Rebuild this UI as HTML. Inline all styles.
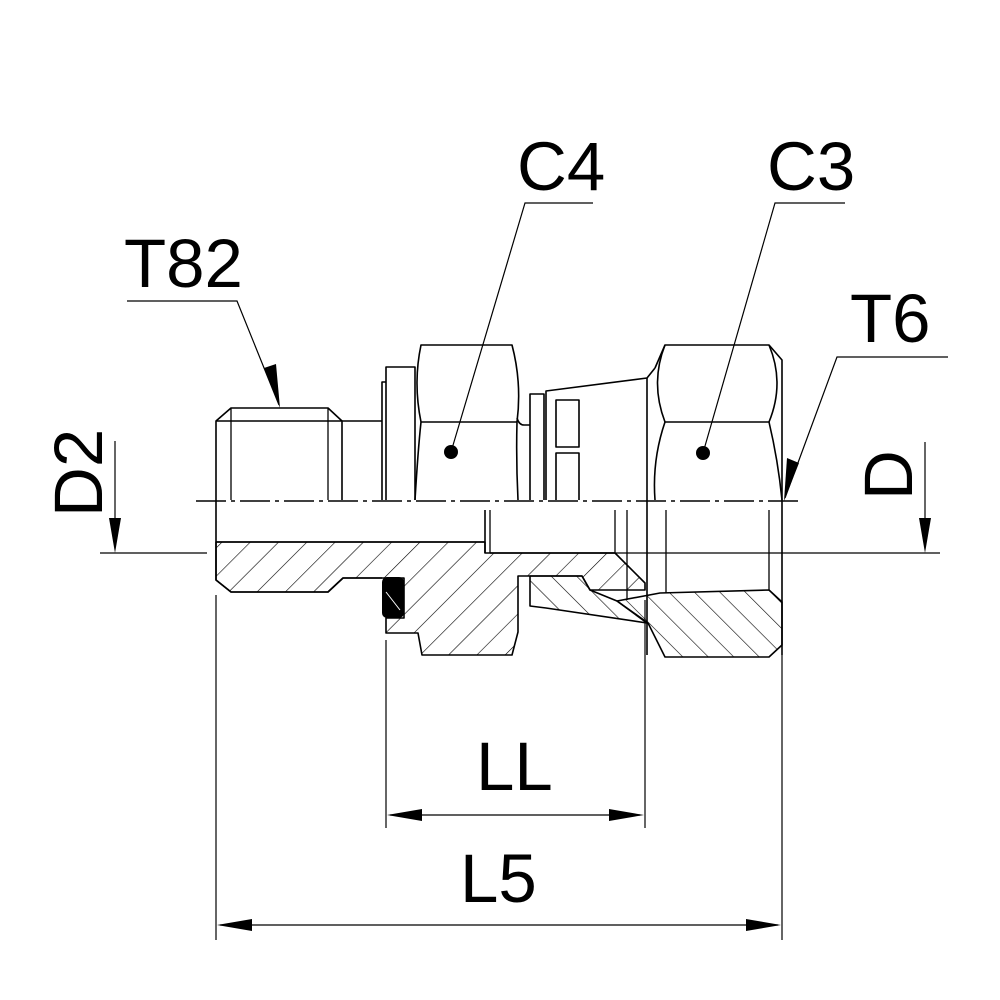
<!DOCTYPE html>
<html><head><meta charset="utf-8"><style>
html,body{margin:0;padding:0;background:#fff}
svg{display:block}
text{font-family:"Liberation Sans",Arial,sans-serif;fill:#000}
</style></head><body>
<svg width="1000" height="1000" viewBox="0 0 1000 1000" xmlns="http://www.w3.org/2000/svg">
<defs>
<pattern id="h1" patternUnits="userSpaceOnUse" width="20" height="20" patternTransform="rotate(45)">
<line x1="0" y1="0" x2="0" y2="20" stroke="#000" stroke-width="1.2"/></pattern>
<pattern id="h2" patternUnits="userSpaceOnUse" width="18" height="18" patternTransform="rotate(-45)">
<line x1="0" y1="0" x2="0" y2="18" stroke="#000" stroke-width="1.2"/></pattern>
</defs>
<g fill="none" stroke="#000" stroke-width="1.6" stroke-linejoin="round">
<path d="M216,500 L216,421 L231,408 L328,408 L342,421 L342,500"/>
<line x1="216" y1="421" x2="342" y2="421"/>
<line x1="231" y1="408" x2="231" y2="500" stroke-width="1.3"/>
<line x1="328" y1="408" x2="328" y2="500" stroke-width="1.3"/>
<path d="M342,421 L382,421"/>
<path d="M382,500 L382,382 L386,382"/>
<path d="M386,500 L386,367 L415,367 L415,500"/>
<path d="M415,500 Q418,450 421,422 Q413,383 421,345 L512,345 Q522,383 517,422 Q516,460 518,500"/>
<line x1="421" y1="422" x2="517" y2="422"/>
<path d="M517,418 Q519,425 524,425 L530,425"/>
<path d="M530,500 L530,394 L544,394 L544,500"/>
<path d="M546,500 L546,391 L647,378 L655,368"/>
<line x1="647" y1="378" x2="647" y2="655"/>
<rect x="556" y="400" width="23" height="47"/>
<path d="M556,500 L556,453 L579,453 L579,500"/>
<path d="M655,368 L665,345 L769,345 L782,360 L782,655"/>
<path d="M665,345 Q650,383 665,422 Q652,460 655,500"/>
<path d="M769,345 Q785,383 769,422 Q778,460 782,500"/>
<line x1="665" y1="422" x2="769" y2="422"/>
<path d="M216,500 L216,580 L231,592 L328,592 L343,578 L382,578"/>
<line x1="216" y1="542" x2="485" y2="542"/>
<line x1="485" y1="510" x2="485" y2="553"/>
<line x1="490" y1="510" x2="490" y2="553" stroke-width="1.3"/>
<line x1="490" y1="553" x2="615" y2="553"/>
<line x1="615" y1="510" x2="615" y2="553" stroke-width="1.3"/>
<line x1="627" y1="510" x2="627" y2="600" stroke-width="1.3"/>
<line x1="666" y1="510" x2="666" y2="593" stroke-width="1.3"/>
<line x1="769" y1="510" x2="769" y2="590" stroke-width="1.3"/>
</g>
<path d="M216,542 L485,542 L485,553 L615,553 L645,583 L645,590 L590,590 L582,576 L518,576 L518,632 L512,655 L422,655 L418,633 L386,633 L386,618 L404,618 L404,578 L343,578 L328,592 L231,592 L216,580 Z" fill="url(#h1)" stroke="#000" stroke-width="1.6" stroke-linejoin="round"/>
<path d="M530,576 L582,576 L590,590 L617,601 L647,623 L546,608 L530,606 Z" fill="url(#h2)" stroke="#000" stroke-width="1.6" stroke-linejoin="round"/>
<path d="M617,601 L660,593 L769,590 L782,602 L782,645 L769,657 L665,657 L648,623 Z" fill="url(#h2)" stroke="#000" stroke-width="1.6" stroke-linejoin="round"/>
<rect x="382" y="577" width="22" height="41" rx="5" fill="#000"/>
<line x1="386" y1="592" x2="400" y2="610" stroke="#fff" stroke-width="1"/>
<line x1="196" y1="501" x2="800" y2="501" stroke="#000" stroke-width="1.5" stroke-dasharray="30,5,4,5"/>
<circle cx="451" cy="452" r="7"/><circle cx="703" cy="453" r="7"/>
<g stroke="#000" stroke-width="1.2" fill="none">
<path d="M127,301 L237,301 L279,405"/>
<path d="M593,203 L525,203 L451,452"/>
<path d="M845,203 L775,203 L703,453"/>
<path d="M948,357 L837,357 L785,498"/>
<line x1="100" y1="553" x2="207" y2="553"/>
<line x1="600" y1="553" x2="940" y2="553"/>
<line x1="115" y1="441" x2="115" y2="530"/>
<line x1="925" y1="442" x2="925" y2="530"/>
<line x1="386" y1="640" x2="386" y2="828"/>
<line x1="645" y1="600" x2="645" y2="828"/>
<line x1="216" y1="595" x2="216" y2="940"/>
<line x1="782" y1="655" x2="782" y2="940"/>
<line x1="390" y1="815" x2="640" y2="815"/>
<line x1="220" y1="925" x2="778" y2="925"/>
</g>
<g fill="#000">
<polygon points="280,408 264,368 276,364"/>
<polygon points="784,501 787,458 799,463"/>
<polygon points="115,553 109,518 121,518"/>
<polygon points="925,553 919,518 931,518"/>
<polygon points="387,815 422,809 422,821"/>
<polygon points="644,815 609,809 609,821"/>
<polygon points="217,925 252,919 252,931"/>
<polygon points="781,925 746,919 746,931"/>
</g>
<g font-size="69">
<text x="124" y="287">T82</text>
<text x="517" y="190">C4</text>
<text x="767" y="190">C3</text>
<text x="850" y="342">T6</text>
<text x="476" y="790">LL</text>
<text x="460" y="902">L5</text>
<text transform="translate(102,517) rotate(-90)">D2</text>
<text transform="translate(912,500) rotate(-90)">D</text>
</g>
</svg>
</body></html>
